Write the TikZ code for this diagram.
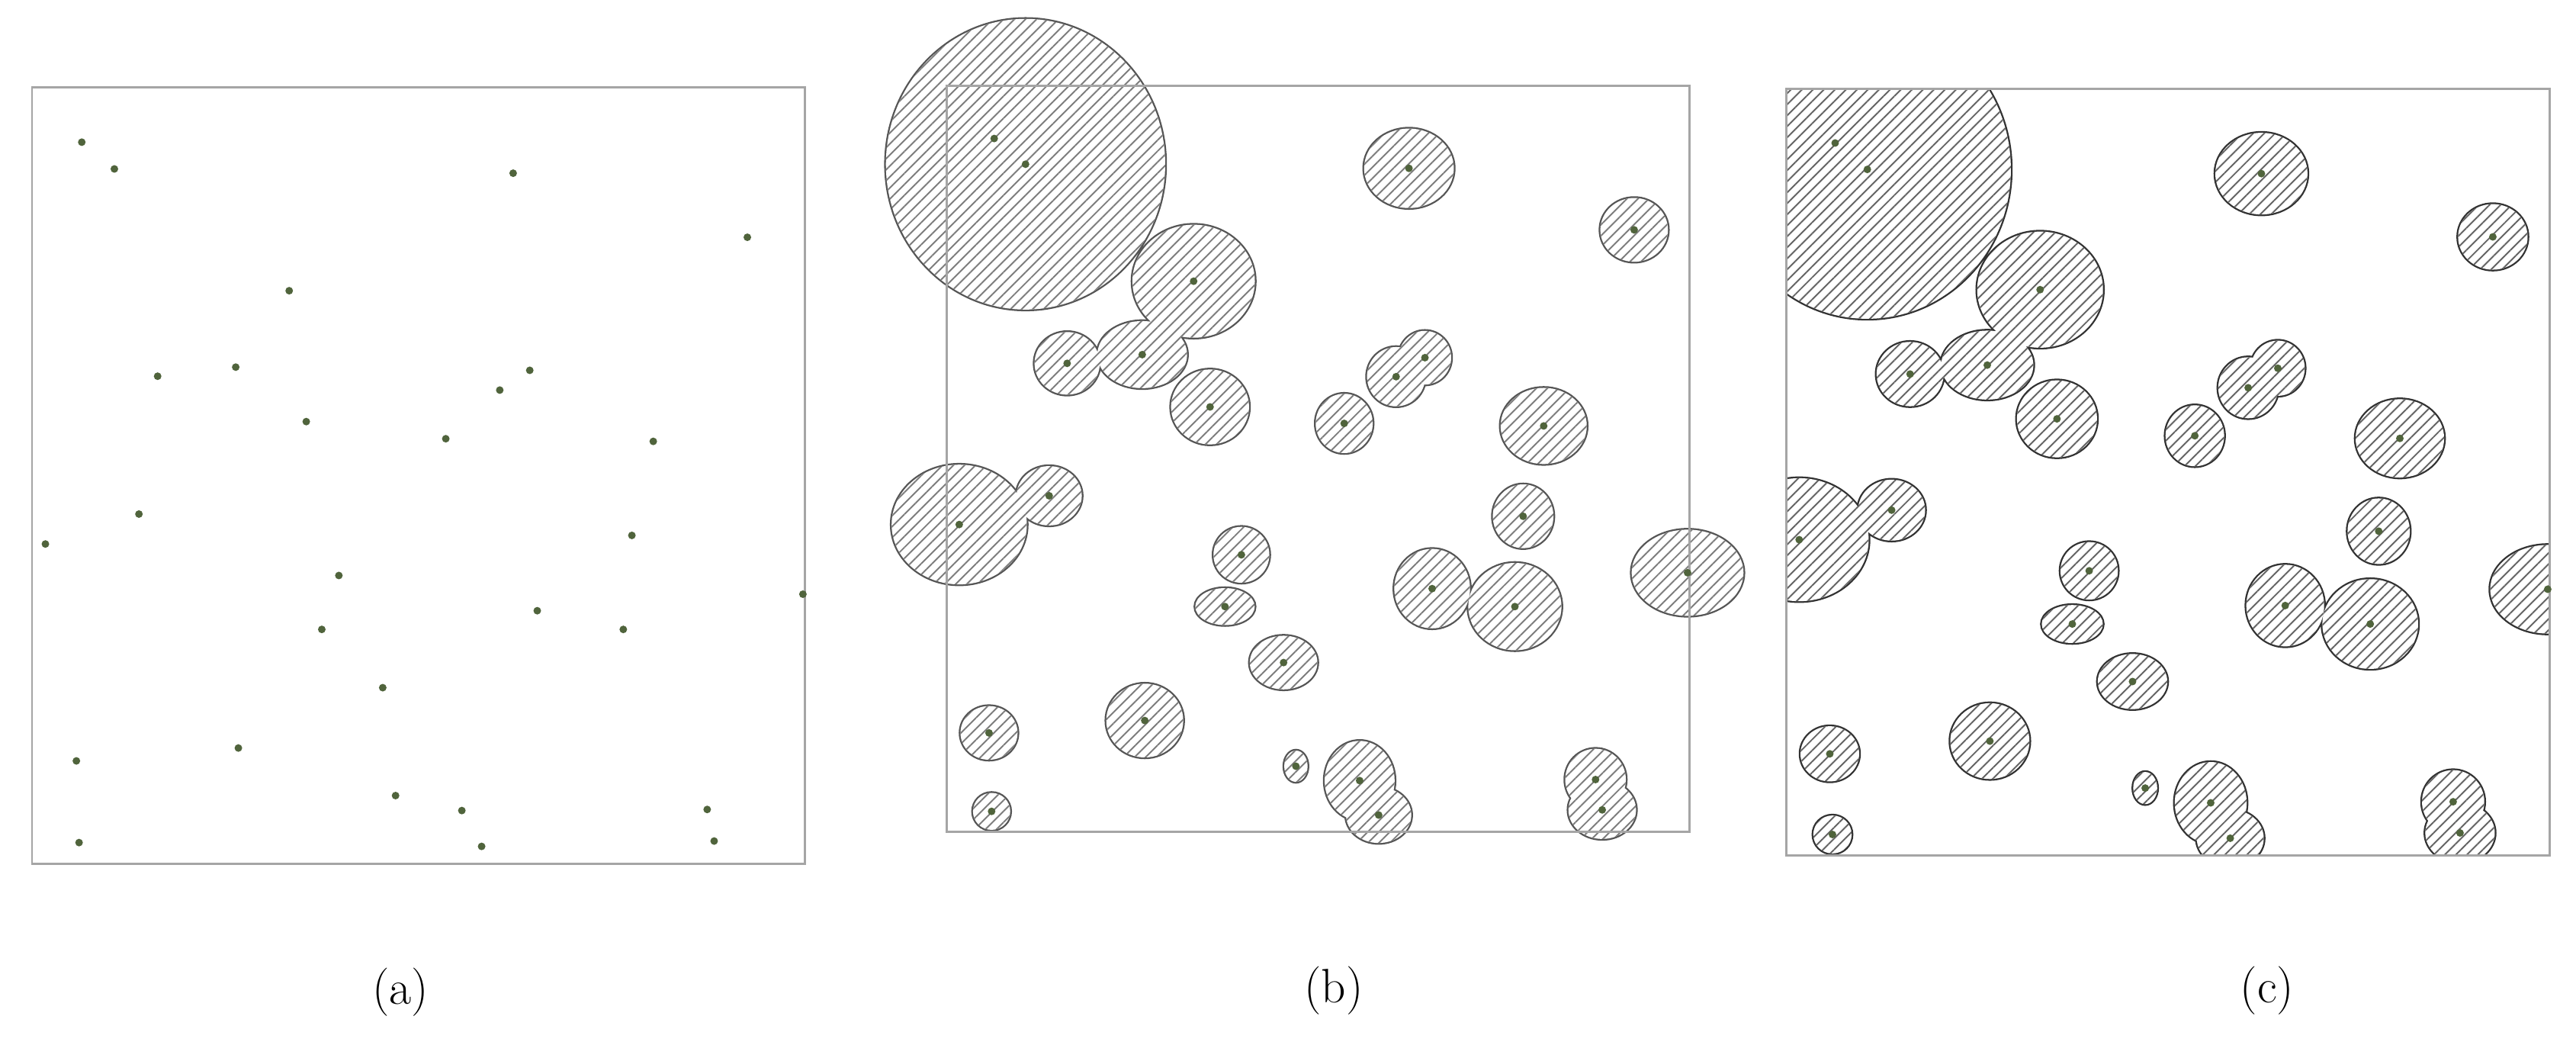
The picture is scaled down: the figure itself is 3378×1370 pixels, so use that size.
\documentclass[tikz,border=0pt]{standalone}
\usetikzlibrary{patterns.meta}
\definecolor{boxcol}{RGB}{165,165,165}
\definecolor{dotcol}{RGB}{80,100,60}
\definecolor{outB}{RGB}{85,85,85}
\definecolor{hatB}{RGB}{125,125,125}
\definecolor{outC}{RGB}{50,50,50}
\definecolor{hatC}{RGB}{100,100,100}
\def\ptlist{1/0.0644/0.0702, 2/0.1066/0.1047, 3/0.6228/0.1102, 4/0.9260/0.1928, 5/0.3329/0.2617, 6/0.2637/0.3602, 7/0.1626/0.3719, 8/0.6443/0.3643, 9/0.6055/0.3898, 10/0.3550/0.4304, 11/0.5356/0.4525, 12/0.8042/0.4559, 13/0.1384/0.5496, 14/0.0173/0.5882, 15/0.7765/0.5771, 16/0.3972/0.6288, 17/0.9979/0.6529, 18/0.6540/0.6742, 19/0.3751/0.6983, 20/0.7654/0.6983, 21/0.4540/0.7734, 22/0.0574/0.8678, 23/0.2671/0.8512, 24/0.4706/0.9125, 25/0.5564/0.9318, 26/0.8740/0.9304, 27/0.0609/0.9731, 28/0.5820/0.9780, 29/0.8830/0.9711}
\def\circlist{2/0.188/0.195, 5/0.0824/0.0758, 7/0.0439/0.0420, 6/0.0604/0.0450, 10/0.0525/0.0503, 3/0.0604/0.0533, 4/0.0455/0.0428, 9/0.0392/0.0398, 8/0.0353/0.0360, 11/0.0384/0.0398, 12/0.0580/0.0511, 14/0.0910/0.0803, 13/0.0439/0.0398, 15/0.0408/0.0428, 16/0.0376/0.0375, 19/0.0400/0.0248, 18/0.0510/0.0533, 20/0.0627/0.0586, 17/0.0753/0.0578, 21/0.0455/0.0360, 22/0.0384/0.0360, 23/0.0518/0.0495, 24/0.0157/0.0210, 25/0.0471/0.0533, 28/0.0439/0.0375, 26/0.0408/0.0413, 29/0.0455/0.0390, 27/0.0251/0.0248}
\newcommand\DefPoints[1]{\foreach \n/\u/\v in \ptlist {\coordinate (#1\n) at ({\bx+\bw*\u},{\by+\bh*\v});}}
\newcommand\DrawDots[1]{\foreach \n/\u/\v in \ptlist {\fill[dotstyle] (#1\n) circle [radius=5];}}
\newcommand\DrawCircles[3]{%
  \path[draw=#2, line width=1.3pt] foreach \n/\ra/\rb in \circlist {(#1\n) ellipse [x radius={\bw*\ra}, y radius={\bh*\rb}]};
  \path[fill=white] foreach \n/\ra/\rb in \circlist {(#1\n) ellipse [x radius={\bw*\ra}, y radius={\bh*\rb}]};
  \path[pattern={Lines[angle=45,distance=2.9pt,line width=0.55pt]}, pattern color=#3] foreach \n/\ra/\rb in \circlist {(#1\n) ellipse [x radius={\bw*\ra}, y radius={\bh*\rb}]};
}
\begin{document}
\begin{tikzpicture}[x=0.01cm, y=-0.01cm,
  boxstyle/.style={draw=boxcol, line width=0.85pt},
  dotstyle/.style={fill=dotcol},
  lab/.style={font=\fontsize{18}{20}\selectfont, inner sep=0pt}]
\path[fill=white] (0,0) rectangle (3378,1370);
\useasboundingbox (0,0) rectangle (3378,1370);
% panel (a)
\def\bx{42}\def\by{115}\def\bw{1013}\def\bh{1017}
\DefPoints{a}
\draw[boxstyle] (\bx,\by) rectangle ({\bx+\bw},{\by+\bh});
\DrawDots{a}
% panel (b)
\def\bx{1241}\def\by{113}\def\bw{974}\def\bh{977}
\DefPoints{b}
\DrawCircles{b}{outB}{hatB}
\draw[boxstyle] (\bx,\by) rectangle ({\bx+\bw},{\by+\bh});
\DrawDots{b}
% panel (c)
\def\bx{2342}\def\by{117}\def\bw{1001}\def\bh{1004}
\DefPoints{c}
\begin{scope}
  \clip (\bx,\by) rectangle ({\bx+\bw},{\by+\bh});
  \DrawCircles{c}{outC}{hatC}
\end{scope}
\draw[boxstyle] (\bx,\by) rectangle ({\bx+\bw},{\by+\bh});
\DrawDots{c}
% labels
\node[lab] (la) at (525,1301) {(a)};
\node[lab] (lb) at (1749,1299) {(b)};
\node[lab] (lc) at (2973,1299) {(c)};
\end{tikzpicture}
\end{document}
